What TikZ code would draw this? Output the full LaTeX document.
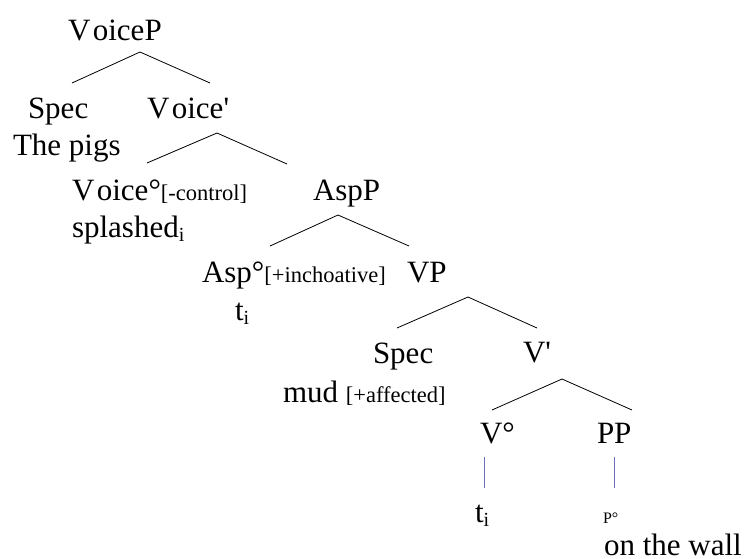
\documentclass[tikz,border=0pt]{standalone}
\usepackage{fontspec}
\setmainfont{Liberation Serif}
\begin{document}
\begin{tikzpicture}[x=1pt,y=-1pt,
  lbl/.style={anchor=base west,inner sep=0pt,outer sep=0pt,font=\fontsize{31}{36}\selectfont},
  branch/.style={line width=0.8pt,black},
  bar/.style={line width=0.9pt,color={rgb,255:red,110;green,110;blue,185}}]
\newcommand{\feat}[1]{{\fontsize{22.5}{26}\selectfont #1}}
\newcommand{\sbi}{{\fontsize{20}{22}\selectfont\raisebox{-4pt}{i}}}
\newcommand{\pr}{\textquotesingle}
\newcommand{\Vo}{V\kern2.5pt oice}
\useasboundingbox (0,0) rectangle (748,558);

% category labels and lexical items
\node[lbl] (voicep)  at (68,40)   {\Vo P};
\node[lbl] (spec1)   at (28,118)  {Spec};
\node[lbl] (voicebar) at (147,118) {\Vo\pr};
\node[lbl] (pigs)    at (13,155)  {The pigs};
\node[lbl] (voicehd) at (72,200)  {\Vo°\feat{[-control]}};
\node[lbl] (splash)  at (72,237)  {splashed\sbi};
\node[lbl] (aspp)    at (313,200) {AspP};
\node[lbl] (asphd)   at (202,282) {Asp°\feat{[+inchoative]}};
\node[lbl] (vp)      at (407,282) {VP};
\node[lbl] (trace1)  at (235,320) {t\sbi};
\node[lbl] (spec2)   at (373,363) {Spec};
\node[lbl] (vbar)    at (523,362) {V\pr};
\node[lbl] (mud)     at (283,402) {mud \feat{[+affected]}};
\node[lbl] (vhd)     at (480,443) {V°};
\node[lbl] (pp)      at (597,443) {PP};
\node[lbl] (trace2)  at (475,522) {t\sbi};
\node[lbl] (phd)     at (603,523) {\fontsize{16}{18}\selectfont P°};
\node[lbl] (wall)    at (604,555) {on the wall};

% branch points
\coordinate (a1) at (140,52);  \coordinate (l1) at (72,83);   \coordinate (r1) at (210,83);
\coordinate (a2) at (217,133); \coordinate (l2) at (147,163); \coordinate (r2) at (287,164);
\coordinate (a3) at (338,215); \coordinate (l3) at (270,246); \coordinate (r3) at (409,246);
\coordinate (a4) at (468,297); \coordinate (l4) at (397,328); \coordinate (r4) at (537,328);
\coordinate (a5) at (562,379); \coordinate (l5) at (492,410); \coordinate (r5) at (632,410);
\coordinate (b1t) at (484,457); \coordinate (b1b) at (484,488);
\coordinate (b2t) at (614,457); \coordinate (b2b) at (614,488);

% branches
\draw[branch] (l1) -- (a1) -- (r1);
\draw[branch] (l2) -- (a2) -- (r2);
\draw[branch] (l3) -- (a3) -- (r3);
\draw[branch] (l4) -- (a4) -- (r4);
\draw[branch] (l5) -- (a5) -- (r5);
\draw[bar] (b1t) -- (b1b);
\draw[bar] (b2t) -- (b2b);
\end{tikzpicture}
\end{document}
